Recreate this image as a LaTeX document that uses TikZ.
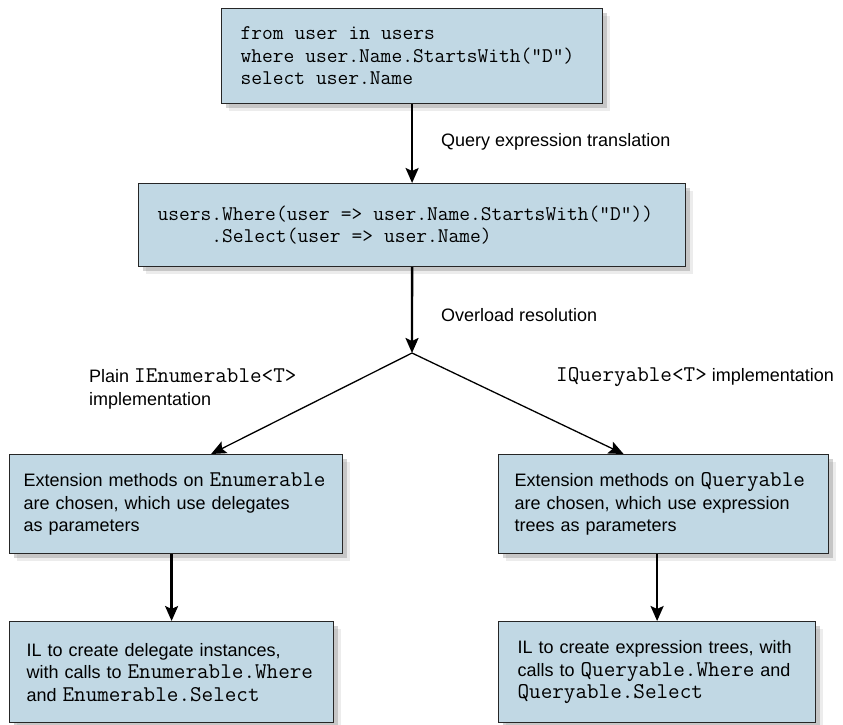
\documentclass[tikz,border=0pt]{standalone}
\usepackage{fontspec}
\setmainfont{Liberation Sans}
\usepackage{tikz}
\usetikzlibrary{arrows.meta,positioning,shadows}
\definecolor{boxblue}{RGB}{193,216,228}
\newcommand{\mono}[1]{{\fontsize{22.5}{22.5}\selectfont\ttfamily #1}}

\begin{document}
\begin{tikzpicture}[
    x=1pt, y=-1pt,
    box/.style={draw=black!85, line width=1.2pt, fill=boxblue, anchor=north west, align=left,
        inner ysep=0pt, font=\fontsize{18}{22.5}\selectfont,
        drop shadow={shadow xshift=7pt, shadow yshift=-7pt, opacity=.15},
        drop shadow={shadow xshift=4pt, shadow yshift=-4pt, opacity=.35}},
    codebox/.style={box, font=\fontsize{20.9}{22.5}\selectfont\ttfamily,
        execute at begin node={\spaceskip=0.525em\relax}},
    lbl/.style={inner sep=0pt, align=left, font=\fontsize{18}{22.5}\selectfont},
    arr/.style={-{Stealth[length=15pt, width=13pt, inset=3pt]}, line width=2.4pt},
    thinarr/.style={-{Stealth[length=15pt, width=13pt, inset=3pt]}, line width=1.3pt}
]
\useasboundingbox (0,0) rectangle (843,724);

% Query and its translation
\node[codebox, text width=343pt, inner xsep=19pt, minimum height=95pt] (query) at (221,8)
    {from user in users\\where user.Name.StartsWith("D")\\select user.Name};
\node[codebox, text width=509pt, inner xsep=19pt, minimum height=83pt] (methods) at (138,183)
    {users.Where(user => user.Name.StartsWith("D"))\\\phantom{users}.Select(user => user.Name)};

\node[lbl, anchor=west] (qet) at (441,142) {Query expression translation};
\node[lbl, anchor=west] (ovl) at (441,315) {Overload resolution};

\draw[arr] (query) -- (methods);
\coordinate (split) at (412,353);
\draw[arr] (methods) -- (split);

% IEnumerable branch
\node[box, text width=305pt, inner xsep=14pt, minimum height=99pt] (enext) at (9,454)
    {Extension methods on \mono{Enumerable}\\are chosen, which use delegates\\as parameters};
\node[box, text width=290pt, inner xsep=17pt, minimum height=101pt] (encalls) at (9,621)
    {IL to create delegate instances,\\with calls to \mono{Enumerable.Where}\\and \mono{Enumerable.Select}};
\node[lbl, anchor=west] (enlbl) at (89,389) {Plain \mono{IEnumerable<T>}\\implementation};

% IQueryable branch
\node[box, text width=298pt, inner xsep=16pt, minimum height=99pt] (qnext) at (498,454)
    {Extension methods on \mono{Queryable}\\are chosen, which use expression\\trees as parameters};
\node[box, text width=279pt, inner xsep=19pt, minimum height=101pt] (qcalls) at (498,621)
    {IL to create expression trees, with\\calls to \mono{Queryable.Where} and\\\mono{Queryable.Select}};
\node[lbl, anchor=west] (qlbl) at (556,377) {\mono{IQueryable<T>} implementation};

\draw[thinarr] (split) -- ([xshift=35pt]enext.north);
\draw[thinarr] (split) -- ([xshift=-40pt]qnext.north);
\draw[arr] (enext.south -| encalls.north) -- (encalls.north);
\draw[arr] (qnext.south -| qcalls.north) -- (qcalls.north);
\end{tikzpicture}
\end{document}
